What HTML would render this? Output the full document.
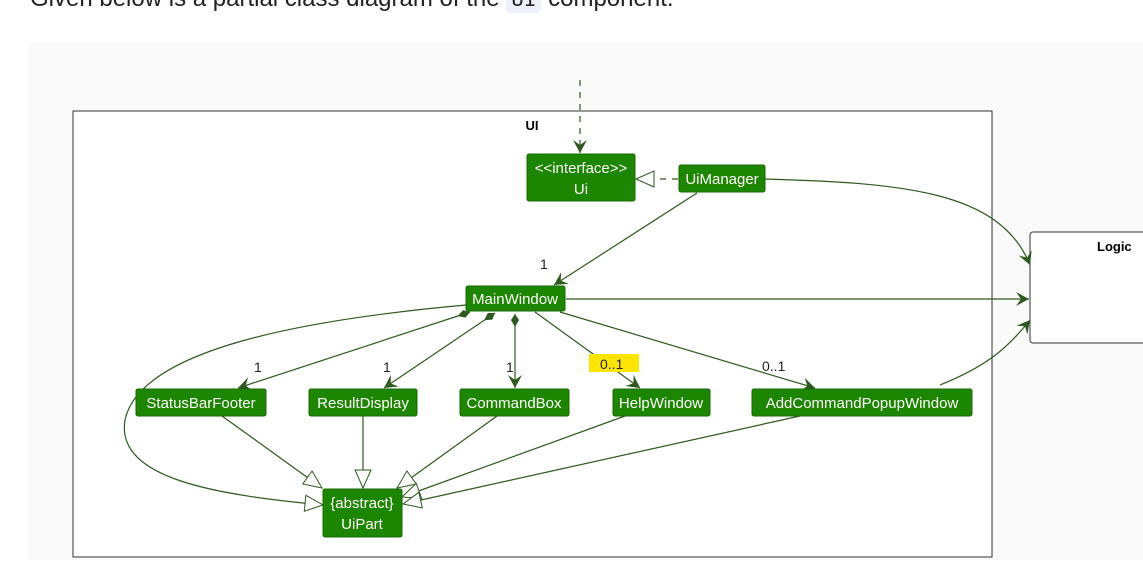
<!DOCTYPE html>
<html><head><meta charset="utf-8"><style>
html,body{margin:0;padding:0;width:1143px;height:588px;overflow:hidden;background:#fff;font-family:"Liberation Sans",sans-serif;}
.cap{position:absolute;left:30px;top:-15px;font-size:24px;color:#222;white-space:nowrap;}
.cap code{font-family:"Liberation Mono",monospace;background:#eef0fb;border-radius:4px;padding:0 5px;font-size:21px;}
.bg{position:absolute;left:28px;top:42px;width:1115px;height:518px;background:#fafafa;}
svg{position:absolute;left:0;top:0;}
</style></head><body>
<div class="cap">Given below is a partial class diagram of the <code>UI</code> component.</div>
<div class="bg"></div>
<svg width="1143" height="588" viewBox="0 0 1143 588" font-family="Liberation Sans, sans-serif">
<defs>
<marker id="ar" markerWidth="16" markerHeight="16" refX="13" refY="7" orient="auto" markerUnits="userSpaceOnUse"><path d="M0,0 L13,7 L0,14 L5,7 Z" fill="#2d5a1d"/></marker>
<marker id="tri" markerWidth="22" markerHeight="22" refX="19" refY="9" orient="auto" markerUnits="userSpaceOnUse"><path d="M1,1 L19,9 L1,17 Z" fill="#fff" stroke="#2d5a1d" stroke-width="1"/></marker>
<marker id="dia" markerWidth="16" markerHeight="10" refX="1" refY="4" orient="auto" markerUnits="userSpaceOnUse"><path d="M1,4 L7,0 L14,4 L7,8 Z" fill="#2d5a1d"/></marker>
</defs>
<rect x="73" y="111" width="919" height="446" fill="#fff" stroke="#333" stroke-width="1"/>
<text x="532" y="130" font-size="13" font-weight="bold" text-anchor="middle">UI</text>
<rect x="1030" y="232" width="130" height="111" rx="3" fill="#fff" stroke="#333"/>
<text x="1097" y="251" font-size="13" font-weight="bold">Logic</text>
<g stroke="#2d5a1d" stroke-width="1.2" fill="none">
<line x1="580" y1="80" x2="580" y2="153" stroke-dasharray="6,6" marker-end="url(#ar)"/>
<line x1="678" y1="179" x2="636" y2="179" stroke-dasharray="6,6" marker-end="url(#tri)"/>
<line x1="697" y1="193" x2="554" y2="285" marker-end="url(#ar)"/>
<path d="M765,179 C900,183 1000,190 1030,265" marker-end="url(#ar)"/>
<line x1="566" y1="299" x2="1029" y2="299" marker-end="url(#ar)"/>
<path d="M940,385 C990,365 1010,345 1030,320" marker-end="url(#ar)"/>
<line x1="470" y1="312" x2="238" y2="388" marker-start="url(#dia)" marker-end="url(#ar)"/>
<line x1="495" y1="313" x2="384" y2="388" marker-start="url(#dia)" marker-end="url(#ar)"/>
<line x1="515" y1="314" x2="515" y2="388" marker-start="url(#dia)" marker-end="url(#ar)"/>
<line x1="535" y1="312" x2="640" y2="388" marker-end="url(#ar)"/>
<line x1="560" y1="312" x2="815" y2="388" marker-end="url(#ar)"/>
<path d="M466,305 C300,320 140,350 125,420 C115,480 220,495 323,505" marker-end="url(#tri)"/>
<line x1="222" y1="416" x2="322" y2="488" marker-end="url(#tri)"/>
<line x1="363" y1="416" x2="363" y2="488" marker-end="url(#tri)"/>
<line x1="497" y1="416" x2="397" y2="488" marker-end="url(#tri)"/>
<line x1="625" y1="416" x2="402" y2="497" marker-end="url(#tri)"/>
<line x1="800" y1="416" x2="403" y2="504" marker-end="url(#tri)"/>
</g>
<g font-size="14" fill="#222">
<text x="540" y="269">1</text>
<text x="254" y="372">1</text>
<text x="383" y="372">1</text>
<text x="506" y="372">1</text>
<rect x="589" y="354" width="50" height="18" fill="#ffe500"/>
<text x="600" y="369">0..1</text>
<text x="762" y="371">0..1</text>
</g>
<g fill="#1d8600" stroke="#176900">
<rect x="527" y="154" width="108" height="47" rx="2"/>
<rect x="679" y="165" width="86" height="27" rx="2"/>
<rect x="466" y="286" width="99" height="25" rx="2"/>
<rect x="136" y="389" width="130" height="27" rx="2"/>
<rect x="309" y="389" width="108" height="27" rx="2"/>
<rect x="460" y="389" width="109" height="27" rx="2"/>
<rect x="613" y="389" width="97" height="27" rx="2"/>
<rect x="752" y="389" width="220" height="27" rx="2"/>
<rect x="323" y="489" width="79" height="48" rx="2"/>
</g>
<g fill="#fff" font-size="15" text-anchor="middle">
<text x="581" y="173">&lt;&lt;interface&gt;&gt;</text>
<text x="581" y="194">Ui</text>
<text x="722" y="184">UiManager</text>
<text x="515" y="304">MainWindow</text>
<text x="201" y="408">StatusBarFooter</text>
<text x="363" y="408">ResultDisplay</text>
<text x="514" y="408">CommandBox</text>
<text x="661" y="408">HelpWindow</text>
<text x="862" y="408">AddCommandPopupWindow</text>
<text x="362" y="508">{abstract}</text>
<text x="362" y="529">UiPart</text>
</g>
</svg>
</body></html>
